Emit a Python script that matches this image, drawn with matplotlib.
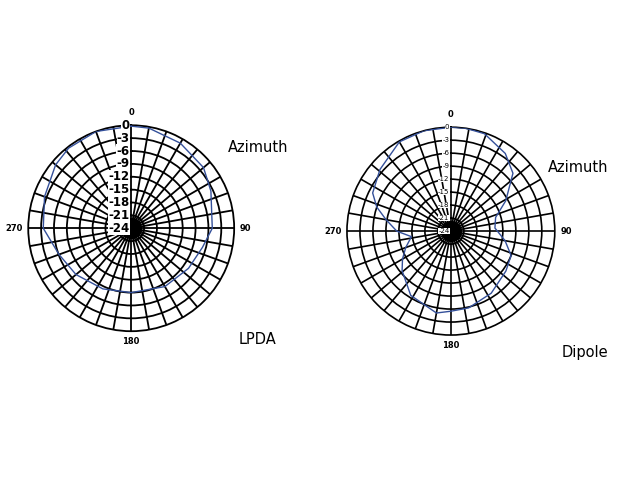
import matplotlib.pyplot as plt
import numpy as np

# Antenna azimuth patterns, angle in degrees (clockwise from north), level in dB
lpda_deg = [0, 10, 30, 50, 65, 90, 105, 125, 150, 180, 205, 230, 250, 270, 290, 310, 322, 340, 360]
lpda_db = [-0.2, -0.3, -1.1, -2.0, -3.5, -5.1, -6.8, -7.7, -8.3, -9.0, -8.4, -7.2, -6.1, -3.5, -2.5, -1.0, -0.3, 0.0, -0.2]

dipole_deg = [0, 8, 19, 35, 47, 61, 73, 86, 100, 112, 126, 147, 167, 180, 190, 212, 231, 240, 250, 262, 270, 280, 288, 296, 311, 330, 345, 360]
dipole_db = [0.0, 0.0, -0.2, -2.1, -4.4, -9.5, -13.2, -13.8, -11.3, -9.0, -8.3, -6.9, -5.8, -5.5, -4.8, -6.5, -9.5, -11.1, -12.9, -14.8, -11.5, -8.8, -6.0, -3.9, -2.3, -0.2, 0.0, 0.0]

ring_labels = [0, -3, -6, -9, -12, -15, -18, -21, -24]
angle_labels = ["0", "90", "180", "270"]

line_blue = "#34509a"

fig = plt.figure(figsize=(6.4, 4.8), dpi=100)


def polar_panel(rect, deg, db, big_labels, grid_lw):
    ax = fig.add_axes(rect, projection="polar")
    ax.set_theta_zero_location("N")
    ax.set_theta_direction(-1)
    ax.set_ylim(-24, 0)
    ax.set_thetagrids(np.arange(0, 360, 10), labels=[])
    ax.set_rgrids(ring_labels[1:-1], labels=[])
    ax.grid(True, color="black", lw=grid_lw)
    ax.spines["polar"].set_color("black")
    ax.spines["polar"].set_linewidth(grid_lw)
    ax.scatter([0], [-24], s=200, color="black", zorder=3)
    ax.plot(np.radians(deg), db, color=line_blue, lw=1.0, zorder=4)

    # dB labels along the 0 degree spoke
    for v in ring_labels:
        if big_labels:
            ax.annotate(str(v), xy=(0, v), xytext=(-1, 0), textcoords="offset points",
                        ha="right", va="center", fontsize=8.5, fontweight="bold",
                        bbox=dict(boxstyle="square,pad=0.02", fc="white", ec="none"), zorder=5)
        else:
            ax.annotate(str(v), xy=(0, v), xytext=(-1, 0), textcoords="offset points",
                        ha="right", va="center", fontsize=5,
                        bbox=dict(boxstyle="square,pad=0.02", fc="white", ec="none"), zorder=5)

    # compass labels outside the ring
    fs = 6
    ax.annotate(angle_labels[0], xy=(0, 0), xytext=(0, 6), textcoords="offset points",
                ha="center", va="bottom", fontsize=fs, fontweight="bold", annotation_clip=False)
    ax.annotate(angle_labels[1], xy=(np.pi / 2, 0), xytext=(4, 0), textcoords="offset points",
                ha="left", va="center", fontsize=fs, fontweight="bold", annotation_clip=False)
    ax.annotate(angle_labels[2], xy=(np.pi, 0), xytext=(0, -4), textcoords="offset points",
                ha="center", va="top", fontsize=fs, fontweight="bold", annotation_clip=False)
    ax.annotate(angle_labels[3], xy=(3 * np.pi / 2, 0), xytext=(-4, 0), textcoords="offset points",
                ha="right", va="center", fontsize=fs, fontweight="bold", annotation_clip=False)
    return ax


polar_panel([0.044, 0.310, 0.322, 0.429], lpda_deg, lpda_db, True, 1.3)
polar_panel([0.542, 0.302, 0.325, 0.433], dipole_deg, dipole_db, False, 1.2)

fig.text(258 / 640, 1 - 148 / 480, "Azimuth", ha="center", va="center", fontsize=10.5)
fig.text(258 / 640, 1 - 340 / 480, "LPDA", ha="center", va="center", fontsize=10.5)
fig.text(578 / 640, 1 - 167 / 480, "Azimuth", ha="center", va="center", fontsize=10.5)
fig.text(585 / 640, 1 - 352 / 480, "Dipole", ha="center", va="center", fontsize=10.5)

fig.savefig("out.png", dpi=100)
